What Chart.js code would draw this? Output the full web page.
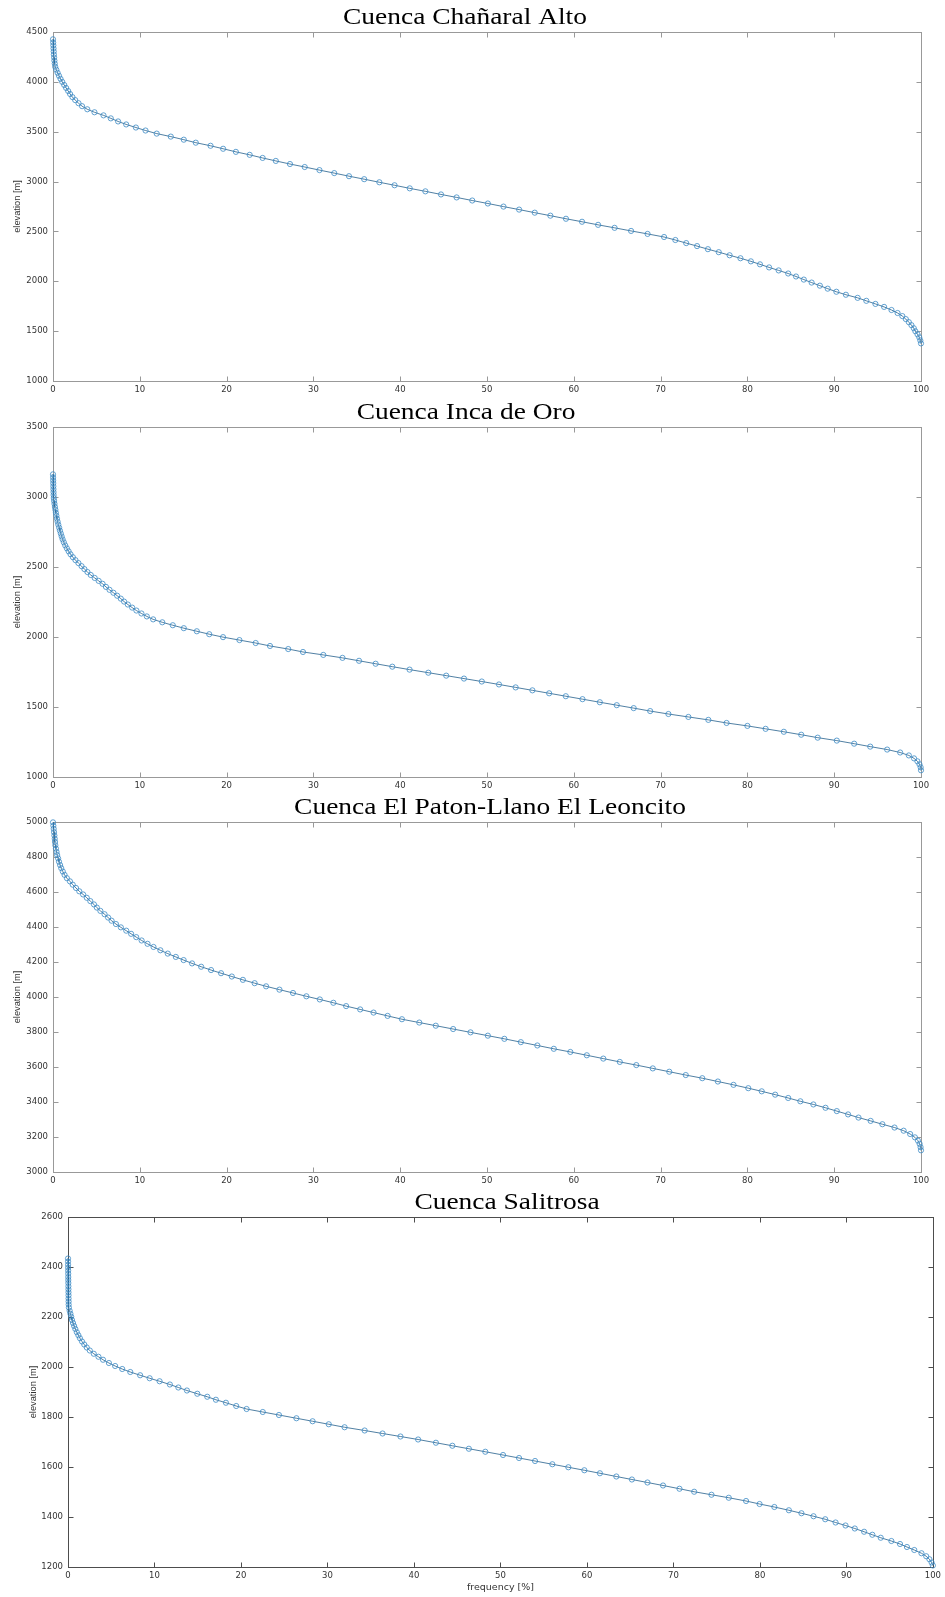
<!DOCTYPE html>
<html>
<head>
<meta charset="utf-8">
<title>Curvas hipsométricas</title>
<script src="https://cdn.jsdelivr.net/npm/chart.js@4.4.1/dist/chart.umd.min.js"></script>
<style>
  html, body { margin: 0; padding: 0; background: #ffffff; }
  #wrap { position: relative; width: 945px; height: 1597px; overflow: hidden; background: #ffffff; }
  #wrap canvas { position: absolute; left: 0; }
</style>
</head>
<body>
<div id="wrap">
  <canvas id="c1" width="945" height="400" style="top:0px"></canvas>
  <canvas id="c2" width="945" height="395" style="top:400px"></canvas>
  <canvas id="c3" width="945" height="395" style="top:795px"></canvas>
  <canvas id="c4" width="945" height="407" style="top:1190px"></canvas>
</div>
<script>
// ---- tick labels ----
const freqTicks = [0, 10, 20, 30, 40, 50, 60, 70, 80, 90, 100];
const chanaralTicks = [1000, 1500, 2000, 2500, 3000, 3500, 4000, 4500];
const incaTicks = [1000, 1500, 2000, 2500, 3000, 3500];
const patonTicks = [3000, 3200, 3400, 3600, 3800, 4000, 4200, 4400, 4600, 4800, 5000];
const salitrosaTicks = [1200, 1400, 1600, 1800, 2000, 2200, 2400, 2600];

// ---- Cuenca Chañaral Alto ----
const chanaralElev = [4427,4396,4366,4335,4305,4274,4244,4213,4183,4152,
  4122,4091,4061,4030,4000,3969,3939,3908,3878,3847,
  3817,3786,3756,3725,3695,3664,3634,3603,3573,3542,
  3512,3481,3451,3420,3390,3359,3329,3298,3268,3237,
  3207,3176,3146,3115,3085,3054,3024,2993,2963,2932,
  2902,2871,2841,2810,2780,2749,2719,2688,2658,2627,
  2597,2566,2536,2505,2475,2444,2414,2383,2353,2322,
  2292,2261,2231,2200,2170,2139,2109,2078,2048,2017,
  1987,1956,1926,1895,1865,1834,1804,1773,1743,1712,
  1682,1651,1621,1590,1560,1529,1499,1468,1438,1407,
  1377];
const chanaralFreq = [0,0.02,0.04,0.06,0.08,0.1,0.13,0.16,0.2,0.25,
  0.38,0.53,0.69,0.87,1.06,1.29,1.51,1.75,1.97,2.24,
  2.56,2.94,3.35,3.95,4.78,5.82,6.66,7.5,8.43,9.55,
  10.66,11.95,13.57,15.07,16.45,18.15,19.6,21.07,22.66,24.15,
  25.67,27.3,29.0,30.7,32.4,34.1,35.85,37.6,39.35,41.1,
  42.9,44.7,46.5,48.3,50.1,51.9,53.7,55.5,57.3,59.1,
  60.95,62.8,64.7,66.6,68.5,70.4,71.7,72.95,74.2,75.45,
  76.7,77.95,79.2,80.4,81.45,82.5,83.6,84.7,85.6,86.5,
  87.4,88.35,89.25,90.25,91.35,92.7,93.7,94.75,95.75,96.6,
  97.3,97.85,98.25,98.6,98.9,99.17,99.35,99.6,99.8,99.92,
  100];

// ---- Cuenca Inca de Oro ----
const incaElev = [3162,3141,3120,3099,3077,3056,3035,3014,2993,2972,
  2951,2929,2908,2887,2866,2845,2824,2803,2781,2760,
  2739,2718,2697,2676,2654,2633,2612,2591,2570,2549,
  2528,2506,2485,2464,2443,2422,2401,2380,2358,2337,
  2316,2295,2274,2253,2232,2210,2189,2168,2147,2126,
  2105,2084,2063,2041,2020,1999,1978,1957,1936,1914,
  1893,1872,1851,1830,1809,1788,1767,1745,1724,1703,
  1682,1661,1640,1619,1598,1577,1556,1534,1513,1492,
  1471,1450,1429,1408,1386,1365,1344,1323,1302,1281,
  1260,1238,1217,1196,1175,1154,1133,1112,1091,1069,
  1048];
const incaFreq = [0,0.01,0.02,0.03,0.04,0.05,0.06,0.07,0.09,0.13,
  0.17,0.22,0.28,0.33,0.39,0.46,0.53,0.61,0.71,0.8,
  0.9,1.0,1.11,1.25,1.41,1.6,1.8,2.02,2.29,2.59,
  2.93,3.29,3.62,3.97,4.35,4.8,5.26,5.71,6.1,6.51,
  6.96,7.39,7.81,8.19,8.62,9.12,9.61,10.19,10.81,11.54,
  12.59,13.8,15.07,16.57,18.0,19.59,21.48,23.35,25.0,27.1,
  28.8,31.14,33.35,35.26,37.17,39.09,41.08,43.24,45.3,47.35,
  49.4,51.38,53.3,55.23,57.16,59.08,61.0,63.0,64.95,66.9,
  68.8,70.9,73.2,75.5,77.6,80.0,82.1,84.2,86.2,88.1,
  90.3,92.3,94.15,96.1,97.6,98.6,99.2,99.59,99.82,99.96,
  100];

// ---- Cuenca El Paton-Llano El Leoncito ----
const patonElev = [4998,4979,4961,4942,4923,4904,4886,4867,4848,4829,
  4811,4792,4773,4754,4736,4717,4698,4679,4661,4642,
  4623,4604,4586,4567,4548,4529,4511,4492,4473,4454,
  4436,4417,4398,4379,4361,4342,4323,4304,4286,4267,
  4248,4229,4211,4192,4173,4154,4136,4117,4098,4079,
  4061,4042,4023,4004,3986,3967,3948,3929,3911,3892,
  3873,3854,3836,3817,3798,3779,3761,3742,3723,3704,
  3686,3667,3648,3629,3611,3592,3573,3554,3536,3517,
  3498,3479,3461,3442,3423,3404,3386,3367,3348,3329,
  3311,3292,3273,3254,3236,3217,3198,3179,3161,3142,
  3124];
const patonFreq = [0,0.04,0.08,0.12,0.16,0.2,0.23,0.27,0.34,0.41,
  0.48,0.59,0.69,0.82,0.95,1.13,1.33,1.6,1.95,2.27,
  2.65,3.03,3.47,3.89,4.3,4.72,5.05,5.46,5.94,6.35,
  6.75,7.25,7.82,8.44,9.0,9.59,10.21,10.89,11.58,12.37,
  13.22,14.15,15.05,16.02,17.07,18.21,19.36,20.6,21.88,23.23,
  24.55,26.09,27.65,29.19,30.74,32.3,33.77,35.39,36.93,38.55,
  40.2,42.2,44.1,46.1,48.1,50.1,52.0,53.9,55.8,57.7,
  59.6,61.5,63.4,65.3,67.2,69.1,71.0,72.9,74.8,76.6,
  78.4,80.1,81.65,83.2,84.7,86.1,87.6,89.0,90.3,91.6,
  92.8,94.2,95.55,96.95,98.0,98.75,99.3,99.65,99.84,99.95,
  100];

// ---- Cuenca Salitrosa ----
const salitrosaElev = [2434,2422,2409,2397,2385,2373,2360,2348,2336,2323,
  2311,2299,2287,2274,2262,2250,2238,2225,2213,2201,
  2188,2176,2164,2152,2139,2127,2115,2102,2090,2078,
  2066,2053,2041,2029,2016,2004,1992,1980,1967,1955,
  1943,1930,1918,1906,1893,1881,1869,1857,1844,1832,
  1820,1808,1795,1783,1771,1759,1746,1734,1722,1710,
  1697,1685,1673,1661,1648,1636,1624,1611,1599,1587,
  1575,1562,1550,1538,1526,1513,1501,1489,1477,1464,
  1452,1440,1427,1415,1403,1391,1378,1366,1354,1341,
  1329,1317,1304,1292,1280,1268,1255,1243,1231,1218,
  1206];
const salitrosaFreq = [0,0.005,0.01,0.015,0.02,0.025,0.03,0.035,0.04,0.045,
  0.05,0.055,0.06,0.065,0.07,0.075,0.1,0.19,0.28,0.37,
  0.46,0.58,0.71,0.85,1.02,1.2,1.38,1.62,1.88,2.17,
  2.52,2.98,3.52,4.05,4.73,5.45,6.27,7.2,8.34,9.44,
  10.59,11.78,12.76,13.75,14.95,16.1,17.1,18.26,19.45,20.65,
  22.52,24.39,26.41,28.28,30.15,31.98,34.3,36.37,38.44,40.48,
  42.54,44.44,46.35,48.25,50.3,52.15,54.0,56.0,57.85,59.7,
  61.5,63.4,65.2,67.0,68.8,70.7,72.4,74.4,76.4,78.4,
  79.96,81.67,83.35,84.8,86.2,87.55,88.75,89.9,90.97,92.05,
  93.0,93.97,95.2,96.2,97.0,97.85,98.68,99.23,99.6,99.85,
  100];

// Box around the axes with inward tick marks on all four sides, plus the panel title.
const panelFrame = {
  id: 'panelFrame',
  beforeDatasetsDraw(chart, args, o) {
    const { ctx, chartArea: a, scales: { x, y } } = chart;
    const L = o.tickLen;
    const left = Math.round(a.left) + 0.5, right = Math.round(a.right) + 0.5;
    const top = Math.round(a.top) + 0.5, bottom = Math.round(a.bottom) + 0.5;
    ctx.save();
    ctx.strokeStyle = o.color;
    ctx.lineWidth = 1;
    ctx.beginPath();
    x.ticks.forEach(t => {
      const px = Math.round(x.getPixelForValue(t.value)) + 0.5;
      ctx.moveTo(px, top); ctx.lineTo(px, top + L);
      ctx.moveTo(px, bottom); ctx.lineTo(px, bottom - L);
    });
    y.ticks.forEach(t => {
      const py = Math.round(y.getPixelForValue(t.value)) + 0.5;
      ctx.moveTo(left, py); ctx.lineTo(left + L, py);
      ctx.moveTo(right, py); ctx.lineTo(right - L, py);
    });
    ctx.stroke();
    ctx.strokeRect(left, top, right - left, bottom - top);
    ctx.restore();
  },
  afterDraw(chart, args, o) {
    if (!o.title) return;
    const { ctx, chartArea: a } = chart;
    ctx.save();
    ctx.font = '22.5px "Liberation Serif", "Times New Roman", serif';
    ctx.fillStyle = '#000000';
    ctx.textAlign = 'center';
    ctx.textBaseline = 'alphabetic';
    ctx.translate(o.titleX, a.top - 8.5);
    ctx.scale(1.22, 1);
    ctx.fillText(o.title, 0, 0);
    ctx.restore();
  }
};
Chart.register(panelFrame);

const tickFont = { family: "'DejaVu Sans', sans-serif", size: 8.5 };

function makePanel(id, p) {
  const points = p.freq.map((f, i) => ({ x: f, y: p.elev[i] }));
  return new Chart(document.getElementById(id), {
    type: 'line',
    data: {
      datasets: [{
        data: points,
        borderColor: '#25608c',
        borderWidth: 0.8,
        pointStyle: 'circle',
        pointRadius: 2.6,
        pointBorderWidth: 0.9,
        pointBorderColor: 'rgba(62,140,198,0.9)',
        pointBackgroundColor: 'rgba(255,255,255,0)',
        tension: 0,
        clip: false
      }]
    },
    options: {
      responsive: false,
      animation: false,
      devicePixelRatio: 1,
      events: [],
      layout: { padding: { top: p.padTop, right: p.padRight, left: 0, bottom: 0 } },
      plugins: {
        legend: { display: false },
        tooltip: { enabled: false },
        panelFrame: { title: p.title, titleX: p.titleX, tickLen: 5, color: p.axisColor }
      },
      scales: {
        x: {
          type: 'linear',
          min: 0, max: 100,
          afterBuildTicks: s => { s.ticks = freqTicks.map(v => ({ value: v })); },
          afterFit: s => { s.height = p.xHeight; },
          grid: { display: false, drawTicks: false },
          border: { display: false },
          ticks: { padding: 4, font: tickFont, color: '#333333', maxRotation: 0, autoSkip: false,
                   callback: v => String(v) },
          title: p.xTitle ? {
            display: true, text: p.xTitle, color: '#333333',
            font: { family: "'DejaVu Sans', sans-serif", size: 9.5 },
            padding: { top: 0, bottom: 3.3 }
          } : { display: false }
        },
        y: {
          type: 'linear',
          min: p.yTicks[0], max: p.yTicks[p.yTicks.length - 1],
          afterBuildTicks: s => { s.ticks = p.yTicks.map(v => ({ value: v })); },
          afterFit: s => { s.width = p.yWidth; },
          grid: { display: false, drawTicks: false },
          border: { display: false },
          ticks: { padding: 5, font: tickFont, color: '#333333', autoSkip: false,
                   callback: v => String(v) },
          title: {
            display: true, text: 'elevation [m]', color: '#333333',
            font: { family: "'Liberation Sans', Arial, sans-serif", size: 9.3 },
            padding: { top: p.yTitlePad, bottom: 0 }
          }
        }
      }
    }
  });
}

makePanel('c1', { title: 'Cuenca Chañaral Alto', titleX: 465, elev: chanaralElev, freq: chanaralFreq,
  yTicks: chanaralTicks, padTop: 32, padRight: 24, yWidth: 53, xHeight: 19, yTitlePad: 11.4,
  axisColor: '#999999' });
makePanel('c2', { title: 'Cuenca Inca de Oro', titleX: 466, elev: incaElev, freq: incaFreq,
  yTicks: incaTicks, padTop: 27, padRight: 24, yWidth: 53, xHeight: 18, yTitlePad: 11.4,
  axisColor: '#999999' });
makePanel('c3', { title: 'Cuenca El Paton-Llano El Leoncito', titleX: 490, elev: patonElev, freq: patonFreq,
  yTicks: patonTicks, padTop: 27, padRight: 24, yWidth: 53, xHeight: 18, yTitlePad: 11.4,
  axisColor: '#999999' });
makePanel('c4', { title: 'Cuenca Salitrosa', titleX: 507, elev: salitrosaElev, freq: salitrosaFreq,
  yTicks: salitrosaTicks, padTop: 27, padRight: 11, yWidth: 68, xHeight: 30, yTitlePad: 27.4,
  axisColor: '#4d4d4d', xTitle: 'frequency [%]' });
</script>
</body>
</html>
